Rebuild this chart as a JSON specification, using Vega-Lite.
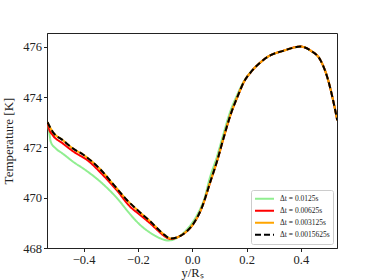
{
  "$schema": "https://vega.github.io/schema/vega-lite/v6.json",
  "width": 290,
  "height": 215,
  "autosize": {"type": "none"},
  "padding": {"left": 47, "top": 33, "right": 37, "bottom": 32},
  "background": "white",
  "config": {
    "font": "Liberation Serif",
    "view": {"stroke": "#222222", "strokeWidth": 1},
    "axis": {"grid": false, "domainColor": "#222222", "tickColor": "#222222", "tickSize": 3.5, "labelFontSize": 12.5, "titleFontSize": 13, "labelColor": "#222222", "titleColor": "#222222", "titleFontWeight": "normal", "labelPadding": 2}
  },
  "data": {"values": [
    {"series": "g", "x": -0.533, "y": 473.0},
    {"series": "g", "x": -0.527, "y": 472.62},
    {"series": "g", "x": -0.521, "y": 472.22},
    {"series": "g", "x": -0.503, "y": 471.96},
    {"series": "g", "x": -0.478, "y": 471.76},
    {"series": "g", "x": -0.435, "y": 471.4},
    {"series": "g", "x": -0.4, "y": 471.15},
    {"series": "g", "x": -0.338, "y": 470.63},
    {"series": "g", "x": -0.277, "y": 469.98},
    {"series": "g", "x": -0.227, "y": 469.32},
    {"series": "g", "x": -0.2, "y": 469.0},
    {"series": "g", "x": -0.154, "y": 468.6},
    {"series": "g", "x": -0.117, "y": 468.38},
    {"series": "g", "x": -0.09, "y": 468.3},
    {"series": "g", "x": -0.06, "y": 468.38},
    {"series": "g", "x": -0.03, "y": 468.62},
    {"series": "g", "x": 0.0, "y": 469.0},
    {"series": "g", "x": 0.031, "y": 469.6},
    {"series": "g", "x": 0.043, "y": 469.91},
    {"series": "g", "x": 0.065, "y": 470.8},
    {"series": "g", "x": 0.09, "y": 471.6},
    {"series": "g", "x": 0.114, "y": 472.5},
    {"series": "g", "x": 0.139, "y": 473.4},
    {"series": "g", "x": 0.165, "y": 474.08},
    {"series": "g", "x": 0.19, "y": 474.63},
    {"series": "g", "x": 0.221, "y": 475.07},
    {"series": "g", "x": 0.252, "y": 475.39},
    {"series": "g", "x": 0.276, "y": 475.59},
    {"series": "g", "x": 0.337, "y": 475.85},
    {"series": "g", "x": 0.399, "y": 476.01},
    {"series": "g", "x": 0.436, "y": 475.85},
    {"series": "g", "x": 0.473, "y": 475.45},
    {"series": "g", "x": 0.497, "y": 474.8},
    {"series": "g", "x": 0.516, "y": 474.0},
    {"series": "g", "x": 0.534, "y": 473.08},

    {"series": "r", "x": -0.533, "y": 473.0},
    {"series": "r", "x": -0.528, "y": 472.75},
    {"series": "r", "x": -0.514, "y": 472.49},
    {"series": "r", "x": -0.477, "y": 472.16},
    {"series": "r", "x": -0.437, "y": 471.83},
    {"series": "r", "x": -0.379, "y": 471.43},
    {"series": "r", "x": -0.338, "y": 471.0},
    {"series": "r", "x": -0.276, "y": 470.27},
    {"series": "r", "x": -0.227, "y": 469.62},
    {"series": "r", "x": -0.2, "y": 469.38},
    {"series": "r", "x": -0.154, "y": 468.97},
    {"series": "r", "x": -0.117, "y": 468.6},
    {"series": "r", "x": -0.1, "y": 468.45},
    {"series": "r", "x": -0.08, "y": 468.36},
    {"series": "r", "x": -0.05, "y": 468.45},
    {"series": "r", "x": -0.025, "y": 468.62},
    {"series": "r", "x": 0.0, "y": 468.9},
    {"series": "r", "x": 0.035, "y": 469.6},
    {"series": "r", "x": 0.067, "y": 470.65},
    {"series": "r", "x": 0.092, "y": 471.48},
    {"series": "r", "x": 0.116, "y": 472.4},
    {"series": "r", "x": 0.141, "y": 473.3},
    {"series": "r", "x": 0.166, "y": 474.0},
    {"series": "r", "x": 0.19, "y": 474.6},
    {"series": "r", "x": 0.221, "y": 475.06},
    {"series": "r", "x": 0.252, "y": 475.39},
    {"series": "r", "x": 0.276, "y": 475.59},
    {"series": "r", "x": 0.337, "y": 475.85},
    {"series": "r", "x": 0.399, "y": 476.01},
    {"series": "r", "x": 0.436, "y": 475.85},
    {"series": "r", "x": 0.473, "y": 475.45},
    {"series": "r", "x": 0.497, "y": 474.8},
    {"series": "r", "x": 0.516, "y": 474.0},
    {"series": "r", "x": 0.534, "y": 473.08},

    {"series": "o", "x": -0.533, "y": 473.0},
    {"series": "o", "x": -0.514, "y": 472.62},
    {"series": "o", "x": -0.477, "y": 472.29},
    {"series": "o", "x": -0.44, "y": 471.96},
    {"series": "o", "x": -0.4, "y": 471.7},
    {"series": "o", "x": -0.338, "y": 471.12},
    {"series": "o", "x": -0.289, "y": 470.51},
    {"series": "o", "x": -0.24, "y": 469.9},
    {"series": "o", "x": -0.2, "y": 469.49},
    {"series": "o", "x": -0.154, "y": 469.05},
    {"series": "o", "x": -0.117, "y": 468.66},
    {"series": "o", "x": -0.1, "y": 468.5},
    {"series": "o", "x": -0.08, "y": 468.38},
    {"series": "o", "x": -0.05, "y": 468.45},
    {"series": "o", "x": -0.025, "y": 468.62},
    {"series": "o", "x": 0.0, "y": 468.9},
    {"series": "o", "x": 0.035, "y": 469.6},
    {"series": "o", "x": 0.067, "y": 470.65},
    {"series": "o", "x": 0.092, "y": 471.48},
    {"series": "o", "x": 0.116, "y": 472.4},
    {"series": "o", "x": 0.141, "y": 473.3},
    {"series": "o", "x": 0.166, "y": 474.0},
    {"series": "o", "x": 0.19, "y": 474.6},
    {"series": "o", "x": 0.221, "y": 475.06},
    {"series": "o", "x": 0.252, "y": 475.39},
    {"series": "o", "x": 0.276, "y": 475.59},
    {"series": "o", "x": 0.337, "y": 475.85},
    {"series": "o", "x": 0.399, "y": 476.01},
    {"series": "o", "x": 0.436, "y": 475.85},
    {"series": "o", "x": 0.473, "y": 475.45},
    {"series": "o", "x": 0.497, "y": 474.8},
    {"series": "o", "x": 0.516, "y": 474.0},
    {"series": "o", "x": 0.534, "y": 473.08},

    {"series": "k", "x": -0.533, "y": 473.0},
    {"series": "k", "x": -0.514, "y": 472.62},
    {"series": "k", "x": -0.477, "y": 472.29},
    {"series": "k", "x": -0.44, "y": 471.96},
    {"series": "k", "x": -0.4, "y": 471.7},
    {"series": "k", "x": -0.338, "y": 471.12},
    {"series": "k", "x": -0.289, "y": 470.51},
    {"series": "k", "x": -0.24, "y": 469.9},
    {"series": "k", "x": -0.2, "y": 469.49},
    {"series": "k", "x": -0.154, "y": 469.05},
    {"series": "k", "x": -0.117, "y": 468.66},
    {"series": "k", "x": -0.1, "y": 468.5},
    {"series": "k", "x": -0.08, "y": 468.38},
    {"series": "k", "x": -0.05, "y": 468.45},
    {"series": "k", "x": -0.025, "y": 468.62},
    {"series": "k", "x": 0.0, "y": 468.9},
    {"series": "k", "x": 0.035, "y": 469.6},
    {"series": "k", "x": 0.067, "y": 470.65},
    {"series": "k", "x": 0.092, "y": 471.48},
    {"series": "k", "x": 0.116, "y": 472.4},
    {"series": "k", "x": 0.141, "y": 473.3},
    {"series": "k", "x": 0.166, "y": 474.0},
    {"series": "k", "x": 0.19, "y": 474.6},
    {"series": "k", "x": 0.221, "y": 475.06},
    {"series": "k", "x": 0.252, "y": 475.39},
    {"series": "k", "x": 0.276, "y": 475.59},
    {"series": "k", "x": 0.337, "y": 475.85},
    {"series": "k", "x": 0.399, "y": 476.01},
    {"series": "k", "x": 0.436, "y": 475.85},
    {"series": "k", "x": 0.473, "y": 475.45},
    {"series": "k", "x": 0.497, "y": 474.8},
    {"series": "k", "x": 0.516, "y": 474.0},
    {"series": "k", "x": 0.534, "y": 473.08}
  ]},
  "transform": [
    {"lookup": "series", "from": {"data": {"values": [
      {"series": "g", "label": "Δt = 0.0125s"},
      {"series": "r", "label": "Δt = 0.00625s"},
      {"series": "o", "label": "Δt = 0.003125s"},
      {"series": "k", "label": "Δt = 0.0015625s"}
    ]}, "key": "series", "fields": ["label"]}}
  ],
  "mark": {"type": "line", "interpolate": "monotone", "strokeWidth": 2, "clip": true},
  "encoding": {
    "x": {"field": "x", "type": "quantitative", "scale": {"domain": [-0.535, 0.533], "nice": false, "zero": false}, "axis": {"values": [-0.4, -0.2, 0, 0.2, 0.4], "format": ".1f", "title": "y/Rₛ", "titleFontSize": 12.5, "titlePadding": 0}},
    "y": {"field": "y", "type": "quantitative", "scale": {"domain": [468, 476.55], "nice": false, "zero": false}, "axis": {"values": [468, 470, 472, 474, 476], "title": "Temperature [K]", "titlePadding": 7}},
    "color": {"field": "label", "type": "nominal", "sort": ["Δt = 0.0125s", "Δt = 0.00625s", "Δt = 0.003125s", "Δt = 0.0015625s"], "scale": {"domain": ["Δt = 0.0125s", "Δt = 0.00625s", "Δt = 0.003125s", "Δt = 0.0015625s"], "range": ["#90ee90", "#ff0000", "#ffa500", "#000000"]},
      "legend": {"title": null, "orient": "bottom-right", "offset": 4, "symbolType": "stroke", "symbolSize": 361, "symbolStrokeWidth": 2, "labelFontSize": 7.5, "labelOffset": 5, "clipHeight": 11.3, "rowPadding": 0, "padding": 3, "strokeColor": "#cccccc", "fillColor": "rgba(255,255,255,0.8)", "cornerRadius": 2, "labelColor": "#222222"}},
    "strokeDash": {"field": "label", "type": "nominal", "sort": ["Δt = 0.0125s", "Δt = 0.00625s", "Δt = 0.003125s", "Δt = 0.0015625s"], "scale": {"domain": ["Δt = 0.0125s", "Δt = 0.00625s", "Δt = 0.003125s", "Δt = 0.0015625s"], "range": [[1, 0], [1, 0], [1, 0], [6, 3]]}, "legend": {"title": null, "orient": "bottom-right", "offset": 4, "symbolType": "stroke", "symbolSize": 361, "symbolStrokeWidth": 2, "labelFontSize": 7.5, "labelOffset": 5, "clipHeight": 11.3, "rowPadding": 0, "padding": 3, "strokeColor": "#cccccc", "fillColor": "rgba(255,255,255,0.8)", "cornerRadius": 2, "labelColor": "#222222"}},
    "order": {"field": "x", "type": "quantitative"}
  }
}
